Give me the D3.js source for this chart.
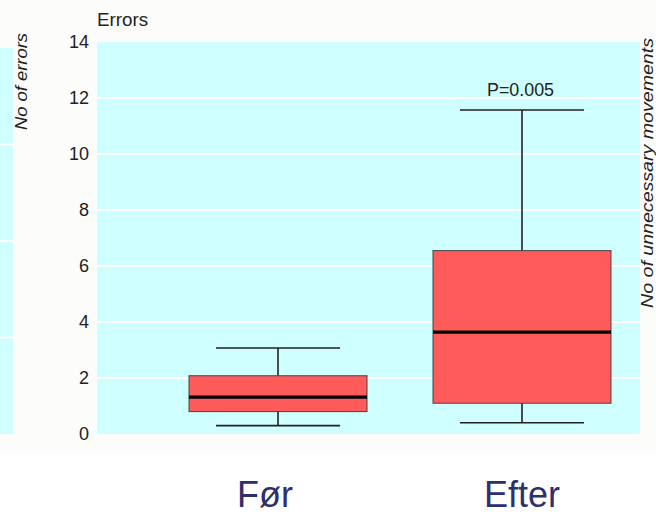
<!DOCTYPE html>
<html>
<head>
<meta charset="utf-8">
<script src="https://cdn.jsdelivr.net/npm/d3@7"></script>
<style>
  body { margin: 0; background: #fff; }
  svg { display: block; }
</style>
</head>
<body>
<svg width="656" height="515"></svg>
<script>
// box plot: errors before / after
const groups = ["Før", "Efter"];
const whiskerLow = [0.3, 0.4];
const q1 = [0.8, 1.1];
const median = [1.32, 3.64];
const q3 = [2.08, 6.55];
const whiskerHigh = [3.07, 11.57];
const yTicks = [0, 2, 4, 6, 8, 10, 12, 14];

const font = "'Liberation Sans', Arial, sans-serif";

const svg = d3.select("svg");

// slightly off-white scan area
svg.append("rect")
  .attr("x", 0).attr("y", 0)
  .attr("width", 656).attr("height", 455)
  .attr("fill", "#fcfcfa");

const plotLeft = 97, plotRight = 640, plotTop = 42, plotBottom = 434;

const y = d3.scaleLinear()
  .domain([0, 14])
  .range([plotBottom, plotTop]);

const x = d3.scalePoint()
  .domain(groups)
  .range([278, 522]);

// cut off panel on the left (neighbouring chart)
const yLeft = d3.scaleLinear().domain([0, 4]).range([plotBottom, 48]);
svg.append("rect")
  .attr("x", 0).attr("y", yLeft(4))
  .attr("width", 13).attr("height", plotBottom - yLeft(4))
  .attr("fill", "#cffefe");
svg.selectAll(".lgrid").data([1, 2, 3]).enter().append("line")
  .attr("x1", 0).attr("x2", 13)
  .attr("y1", d => yLeft(d)).attr("y2", d => yLeft(d))
  .attr("stroke", "#fff").attr("stroke-width", 2);

svg.append("text")
  .attr("transform", "translate(27, 130) rotate(-90)")
  .attr("font-family", font)
  .attr("font-style", "italic")
  .attr("font-size", "17px")
  .attr("textLength", 97)
  .attr("lengthAdjust", "spacingAndGlyphs")
  .attr("fill", "#222")
  .text("No of errors");

// main plot background
svg.append("rect")
  .attr("x", plotLeft).attr("y", plotTop)
  .attr("width", plotRight - plotLeft).attr("height", plotBottom - plotTop)
  .attr("fill", "#cffefe");

svg.selectAll(".grid").data(yTicks.filter(d => d > 0 && d < 14)).enter().append("line")
  .attr("x1", plotLeft).attr("x2", plotRight)
  .attr("y1", d => y(d)).attr("y2", d => y(d))
  .attr("stroke", "#fff").attr("stroke-width", 2);

// y axis labels only
const yAxis = d3.axisLeft(y).tickValues(yTicks).tickSize(0).tickPadding(0);
const ga = svg.append("g")
  .attr("transform", "translate(89, 0)")
  .call(yAxis);
ga.select(".domain").remove();
ga.selectAll("text")
  .attr("font-family", font)
  .attr("font-size", "18px")
  .attr("fill", "#222");

svg.append("text")
  .attr("x", 97).attr("y", 26)
  .attr("font-family", font)
  .attr("font-size", "18px")
  .attr("textLength", 51)
  .attr("lengthAdjust", "spacingAndGlyphs")
  .attr("fill", "#222")
  .text("Errors");

// boxes
const boxW = 178, capW = 124;
const data = groups.map((g, i) => ({
  g, lo: whiskerLow[i], q1: q1[i], med: median[i], q3: q3[i], hi: whiskerHigh[i]
}));

const box = svg.selectAll(".box").data(data).enter().append("g");

box.append("line")
  .attr("x1", d => x(d.g)).attr("x2", d => x(d.g))
  .attr("y1", d => y(d.hi)).attr("y2", d => y(d.lo))
  .attr("stroke", "#222").attr("stroke-width", 1.6);

box.selectAll(".cap").data(d => [d.lo, d.hi].map(v => ({ g: d.g, v }))).enter().append("line")
  .attr("x1", d => x(d.g) - capW / 2).attr("x2", d => x(d.g) + capW / 2)
  .attr("y1", d => y(d.v)).attr("y2", d => y(d.v))
  .attr("stroke", "#222").attr("stroke-width", 1.6);

box.append("rect")
  .attr("x", d => x(d.g) - boxW / 2)
  .attr("y", d => y(d.q3))
  .attr("width", boxW)
  .attr("height", d => y(d.q1) - y(d.q3))
  .attr("fill", "#ff5b5b")
  .attr("stroke", "#444").attr("stroke-width", 1);

box.append("line")
  .attr("x1", d => x(d.g) - boxW / 2).attr("x2", d => x(d.g) + boxW / 2)
  .attr("y1", d => y(d.med)).attr("y2", d => y(d.med))
  .attr("stroke", "#000").attr("stroke-width", 3.2);

svg.append("text")
  .attr("x", 487).attr("y", 96)
  .attr("font-family", font)
  .attr("font-size", "18px")
  .attr("textLength", 67)
  .attr("lengthAdjust", "spacingAndGlyphs")
  .attr("fill", "#222")
  .text("P=0.005");

// right side label (runs to the edge)
svg.append("text")
  .attr("transform", "translate(653, 308) rotate(-90)")
  .attr("font-family", font)
  .attr("font-style", "italic")
  .attr("font-size", "16px")
  .attr("textLength", 270)
  .attr("lengthAdjust", "spacingAndGlyphs")
  .attr("fill", "#222")
  .text("No of unnecessary movements");

// group labels
const labelX = [265, 522];
svg.selectAll(".glabel").data(groups).enter().append("text")
  .attr("x", (d, i) => labelX[i])
  .attr("y", 507)
  .attr("text-anchor", "middle")
  .attr("font-family", font)
  .attr("font-size", "36px")
  .attr("fill", "#2e2f6e")
  .text(d => d);
</script>
</body>
</html>
